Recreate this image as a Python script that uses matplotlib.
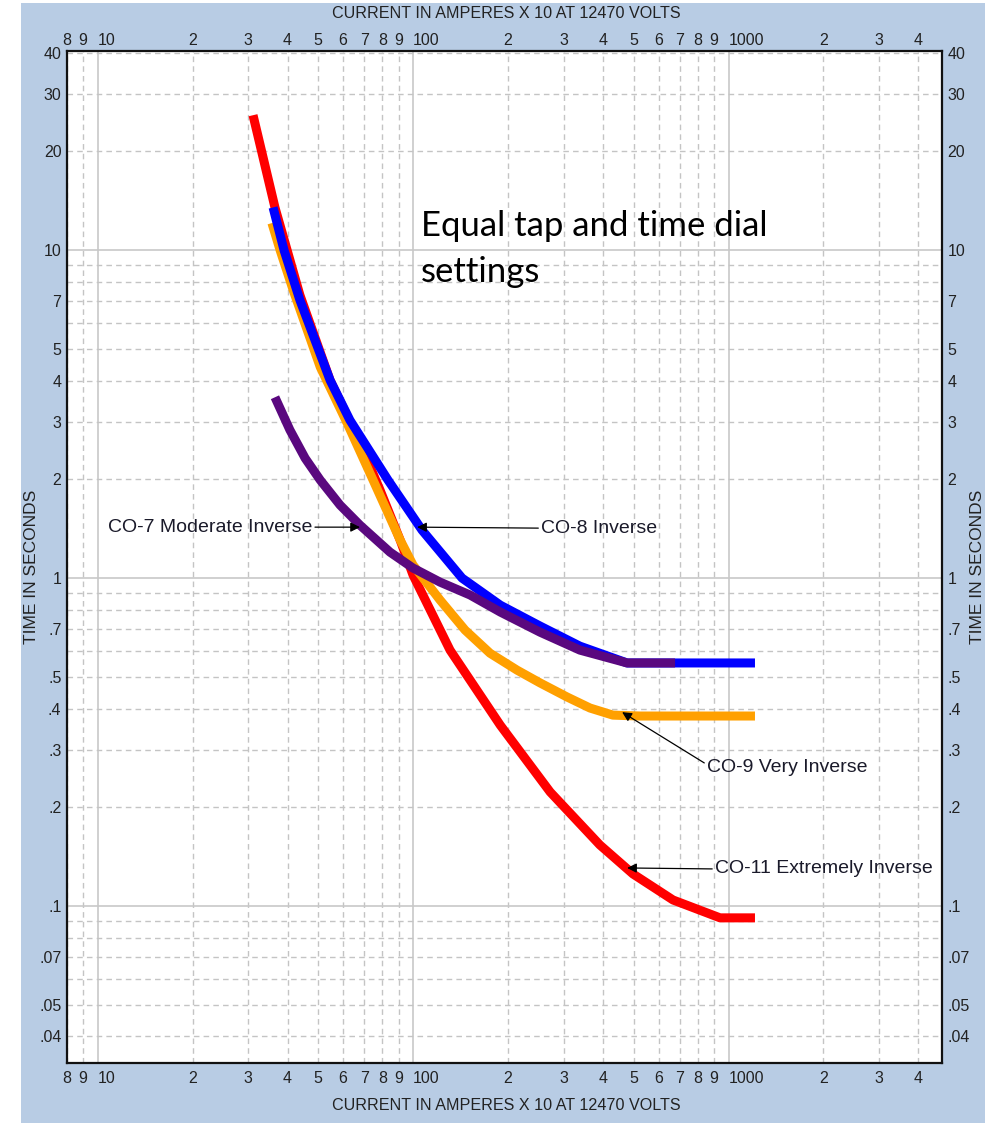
import matplotlib.pyplot as plt
from matplotlib.patches import Rectangle
from matplotlib.transforms import ScaledTranslation

# curve data (current in A x10, time in s)
co11_amps = [31.1, 36.5, 43.8, 54.6, 67.9, 78.6, 90.9, 100, 131, 189, 272, 391, 498, 667, 940, 1213]
co11_secs = [25.8, 13.5, 7.29, 4.01, 2.58, 1.855, 1.31, 1.021, 0.603, 0.356, 0.2227, 0.1535, 0.1252,
             0.1043, 0.0920, 0.0920]

co9_amps = [35.7, 37.9, 41.7, 50.8, 61.8, 74.7, 90.9, 100, 121.8, 146.2, 175.4, 213.6, 252.7,
            307.6, 363.9, 430, 524, 1213]
co9_secs = [12.1, 10.0, 7.55, 4.40, 2.97, 1.99, 1.31, 1.096, 0.857, 0.694, 0.590, 0.524, 0.479,
            0.434, 0.4015, 0.382, 0.3796, 0.3796]

co8_amps = [36.0, 39.0, 43.8, 50.0, 54.6, 63.1, 83.3, 106.8, 143.0, 189, 252.7, 338, 477, 1213]
co8_secs = [13.5, 10.0, 7.04, 5.02, 4.01, 3.03, 1.99, 1.40, 1.0, 0.827, 0.714, 0.620, 0.551, 0.551]

co7_amps = [36.5, 40.7, 45.5, 50.8, 58.7, 67.9, 84.5, 100, 121.8, 151.6, 189, 252.7, 338, 477, 677]
co7_secs = [3.56, 2.83, 2.32, 1.99, 1.67, 1.45, 1.20, 1.073, 0.972, 0.888, 0.788, 0.684, 0.603,
            0.551, 0.551]

xtick_vals = [8, 9, 10, 20, 30, 40, 50, 60, 70, 80, 90, 100, 200, 300, 400, 500,
              600, 700, 800, 900, 1000, 2000, 3000, 4000]
xtick_labels = ['8', '9', '10', '2', '3', '4', '5', '6', '7', '8', '9', '100', '2', '3',
                '4', '5', '6', '7', '8', '9', '1000', '2', '3', '4']
ytick_vals = [40, 30, 20, 10, 7, 5, 4, 3, 2, 1, 0.7, 0.5, 0.4, 0.3, 0.2, 0.1, 0.07, 0.05, 0.04]
ytick_labels = ['40', '30', '20', '10', '7', '5', '4', '3', '2', '1', '.7', '.5', '.4', '.3',
                '.2', '.1', '.07', '.05', '.04']
ygrid_vals = [0.04, 0.05, 0.06, 0.07, 0.08, 0.09, 0.1, 0.2, 0.3, 0.4, 0.5, 0.6, 0.7, 0.8, 0.9,
              1, 2, 3, 4, 5, 6, 7, 8, 9, 10, 20, 30, 40]
decades = [0.1, 1, 10, 100, 1000]

plt.rcParams['font.family'] = ['Liberation Sans', 'DejaVu Sans']

fig = plt.figure(figsize=(9.85, 11.23), dpi=100)
fig.patches.append(Rectangle((21 / 985, 0), 1 - 21 / 985, 1 - 3 / 1123,
                             transform=fig.transFigure, facecolor='#b8cce4',
                             edgecolor='none', zorder=-5))

ax = fig.add_axes([67 / 985, 1 - 1063 / 1123, 875 / 985, 1012 / 1123])
ax.set_xscale('log')
ax.set_yscale('log')
ax.set_xlim(8, 4750)
ax.set_ylim(0.0332, 40.5)
ax.set_facecolor('white')

# grid: solid at decades, dashed elsewhere
for v in xtick_vals:
    if v in decades:
        ax.axvline(v, color='#c8c8c8', lw=1.2, zorder=1)
    else:
        ax.axvline(v, color='#c4c4c4', lw=1.0, dashes=(4, 3), zorder=1)
for v in ygrid_vals:
    if v in decades:
        ax.axhline(v, color='#c8c8c8', lw=1.2, zorder=1)
    else:
        ax.axhline(v, color='#c4c4c4', lw=1.0, dashes=(4, 3), zorder=1)

lw = 6.5
style = dict(lw=lw, solid_capstyle='butt', solid_joinstyle='round')
ax.plot(co11_amps, co11_secs, color='#ff0000', zorder=3, **style)
ax.plot(co9_amps, co9_secs, color='#ffa000', zorder=4, **style)
ax.plot(co8_amps, co8_secs, color='#0000ff', zorder=5, **style)
ax.plot(co7_amps, co7_secs, color='#5a087f', zorder=6, **style)

ax.set_xticks(xtick_vals, labels=xtick_labels)
ax.set_yticks(ytick_vals, labels=ytick_labels)
ax.minorticks_off()
ax.tick_params(axis='x', which='both', top=True, labeltop=True, bottom=True, labelbottom=True,
               length=0, pad=6, labelsize=11.5, labelcolor='#222222')
ax.tick_params(axis='y', which='both', left=True, right=True, labelleft=True, labelright=True,
               length=0, pad=4, labelsize=11.5, labelcolor='#222222')
# multi-digit x labels start at their grid line, single digits are centred;
# top labels sit a little closer to the frame
shift_down = ScaledTranslation(0, -0.055, fig.dpi_scale_trans)
for tick, lab in zip(ax.xaxis.get_major_ticks(), xtick_labels):
    tick.label2.set_transform(tick.label2.get_transform() + shift_down)
    if len(lab) > 1:
        tick.label1.set_horizontalalignment('left')
        tick.label2.set_horizontalalignment('left')
for s in ax.spines.values():
    s.set_color('#111111')
    s.set_linewidth(1.6)

arrow = dict(arrowstyle='-|>', color='black', lw=0.9, mutation_scale=14, shrinkA=0, shrinkB=0)
ann_font = dict(fontsize=14, color='#1a1a2a')
ax.annotate('CO-7 Moderate Inverse', xy=(67.9, 1.43), xytext=(47.9, 1.43),
            ha='right', va='center', arrowprops=dict(arrow, relpos=(1, 0.5)), zorder=8, **ann_font)
ax.annotate('CO-8 Inverse', xy=(103, 1.43), xytext=(254.6, 1.42),
            ha='left', va='center', arrowprops=dict(arrow, relpos=(0, 0.5)), zorder=8, **ann_font)
ax.annotate('CO-9 Very Inverse', xy=(460, 0.39), xytext=(855, 0.265),
            ha='left', va='center', arrowprops=dict(arrow, relpos=(0, 0.65)), zorder=8, **ann_font)
ax.annotate('CO-11 Extremely Inverse', xy=(477, 0.1306), xytext=(906, 0.1297),
            ha='left', va='center', arrowprops=dict(arrow, relpos=(0, 0.5)), zorder=8, **ann_font)

note_font = dict(fontsize=25, family=['Lato', 'DejaVu Sans'], ha='left', va='center', color='black', zorder=9)
ax.text(106, 11.84, 'Equal tap and time dial', **note_font)
ax.text(106, 8.55, 'settings', **note_font)

title_font = dict(fontsize=11.6, color='#222222')
fig.text(506 / 985, 1 - 14 / 1123, 'CURRENT IN AMPERES X 10 AT 12470 VOLTS', ha='center', va='center', **title_font)
fig.text(506 / 985, 1 - 1106 / 1123, 'CURRENT IN AMPERES X 10 AT 12470 VOLTS', ha='center', va='center', **title_font)
fig.text(32 / 985, 1 - 567 / 1123, 'TIME IN SECONDS', rotation=90, ha='center', va='center',
         fontsize=12.5, color='#222222')
fig.text(978 / 985, 1 - 567 / 1123, 'TIME IN SECONDS', rotation=90, ha='center', va='center',
         fontsize=12.5, color='#222222')

fig.savefig('out.png', dpi=100)
